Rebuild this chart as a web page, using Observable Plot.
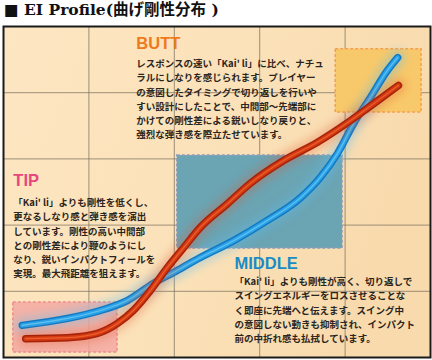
<!DOCTYPE html>
<html><head><meta charset="utf-8">
<script src="https://cdn.jsdelivr.net/npm/d3@7"></script>
<script src="https://cdn.jsdelivr.net/npm/@observablehq/plot@0.6"></script>
<style>
body{margin:0;background:#fff;}
#title{height:24px;font:bold 15.5px "DejaVu Serif","Noto Sans CJK JP",serif;line-height:19px;padding-left:4px;color:#111;white-space:nowrap;}
#chart svg{display:block;}
</style></head><body>
<div id="title">■ EI Profile(曲げ剛性分布 )</div>
<div id="chart"></div>
<script>
// Curves (position along shaft 0-100, stiffness 0-100)
const blueX = [4.4, 15.0, 22.7, 29.0, 35.1, 39.8, 46.1, 53.9, 61.8, 69.6, 74.2, 78.2, 82.0, 85.9, 89.9, 92.3];
const blueY = [9.7, 11.8, 14.2, 17.2, 22.4, 25.7, 30.2, 35.3, 41.4, 48.3, 54.4, 61.6, 70.7, 78.5, 86.7, 90.6];
const redX  = [5.2, 15.0, 22.0, 26.7, 30.4, 34.4, 38.4, 42.2, 46.1, 52.5, 57.8, 65.6, 73.5, 81.3, 86.7, 92.5];
const redY  = [5.7, 6.0, 7.3, 10.3, 14.2, 20.2, 27.2, 33.2, 39.3, 46.5, 52.6, 59.5, 65.0, 71.6, 76.7, 82.2];

// Highlighted zones
const zoneNames = ["TIP", "MIDDLE", "BUTT"];
const zoneX1 = [2.3, 40.7, 77.8];
const zoneX2 = [26.7, 79.4, 97.9];
const zoneY1 = [1.5, 32.9, 74.0];
const zoneY2 = [16.6, 61.0, 93.1];

const gridTicks = [20, 40, 60, 80];

// Annotation texts
const labels = ["BUTT", "TIP", "MIDDLE"];
const bodies = [
  "レスポンスの速い「Kai' li」に比べ、ナチュ\nラルにしなりを感じられます。プレイヤー\nの意図したタイミングで切り返しを行いや\nすい設計にしたことで、中間部〜先端部に\nかけての剛性差による鋭いしなり戻りと、\n強烈な弾き感を際立たせています。",
  "「Kai' li」よりも剛性を低くし、\n更なるしなり感と弾き感を演出\nしています。剛性の高い中間部\nとの剛性差により鞭のようにし\nなり、鋭いインパクトフィールを\n実現。最大飛距離を狙えます。",
  "「Kai' li」よりも剛性が高く、切り返しで\nスイングエネルギーをロスさせることな\nく即座に先端へと伝えます。スイング中\nの意図しない動きも抑制され、インパクト\n前の中折れ感も払拭しています。"
];

const blue = blueX.map((x, i) => ({x, y: blueY[i]}));
const red = redX.map((x, i) => ({x, y: redY[i]}));
const zones = zoneNames.map((name, i) => ({name, x1: zoneX1[i], x2: zoneX2[i], y1: zoneY1[i], y2: zoneY2[i]}));

const zoneStyle = {
  TIP: {fill: "#F3A9A2", stroke: "#EE8C90", op: 0.85},
  MIDDLE: {fill: "#6BA4B3", stroke: "#8E9CBC", op: 1},
  BUTT: {fill: "#F8C96A", stroke: "#F4A04E", op: 1}
};
const labelStyle = {
  BUTT: {x: 31.1, y: 94.9, color: "#EE7A1C", bx: 31.1, by: 90.8},
  TIP: {x: 2.3, y: 53.4, color: "#E8467E", bx: 2.3, by: 48.8},
  MIDDLE: {x: 54.1, y: 28.4, color: "#1A8CC6", bx: 54.1, by: 24.9}
};

// background with a soft warm gradient
function background(index, scales, values, dims) {
  const ns = "http://www.w3.org/2000/svg";
  const g = document.createElementNS(ns, "g");
  const defs = document.createElementNS(ns, "defs");
  defs.innerHTML = `<linearGradient id="bgGrad" x1="0" y1="0" x2="1" y2="0.3">
    <stop offset="0" stop-color="#FDE6C2"/><stop offset="0.6" stop-color="#FBE1B8"/><stop offset="1" stop-color="#F8DAAD"/></linearGradient>`;
  g.appendChild(defs);
  const r = document.createElementNS(ns, "rect");
  r.setAttribute("x", dims.marginLeft); r.setAttribute("y", dims.marginTop);
  r.setAttribute("width", dims.width - dims.marginLeft - dims.marginRight);
  r.setAttribute("height", dims.height - dims.marginTop - dims.marginBottom);
  r.setAttribute("fill", "url(#bgGrad)");
  g.appendChild(r);
  return g;
}

const fam = "'Noto Sans CJK JP', sans-serif";
const marks = [
  background,
  Plot.gridX(gridTicks, {stroke: "#857967", strokeOpacity: 0.8, strokeWidth: 1}),
  Plot.gridY(gridTicks, {stroke: "#857967", strokeOpacity: 0.8, strokeWidth: 1}),
];
zones.forEach(z => {
  const s = zoneStyle[z.name];
  marks.push(Plot.rect([z], {x1: "x1", x2: "x2", y1: "y1", y2: "y2", fill: s.fill, fillOpacity: s.op,
    stroke: s.stroke, strokeWidth: 1.5, strokeDasharray: "3,2"}));
});
labels.forEach((lab, i) => {
  const s = labelStyle[lab];
  marks.push(Plot.text([lab], {x: () => s.x, y: () => s.y, text: d => d, fill: s.color, fontSize: 16.5,
    fontWeight: "bold", fontFamily: "'Liberation Sans', Arial, sans-serif", textAnchor: "start", lineAnchor: "middle"}));
  marks.push(Plot.text([bodies[i]], {x: () => s.bx, y: () => s.by, text: d => d, fill: "#2b2520", fontSize: 9.5,
    fontWeight: "bold", fontFamily: fam, textAnchor: "start", lineAnchor: "top", lineHeight: 1.5}));
});
const curve = "monotone-x";
marks.push(
  Plot.line(blue, {x: "x", y: "y", curve, stroke: "#5BBDF0", strokeWidth: 16, strokeOpacity: 0.35, imageFilter: "blur(4px)", strokeLinecap: "round"}),
  Plot.line(blue, {x: "x", y: "y", curve, stroke: "#1479C2", strokeWidth: 7.5, strokeLinecap: "round", imageFilter: "blur(0.6px)"}),
  Plot.line(blue, {x: "x", y: "y", curve, stroke: "#2AA4E8", strokeWidth: 4.5, strokeLinecap: "round", imageFilter: "blur(0.5px)"}),
  Plot.line(blue, {x: "x", y: "y", curve, stroke: "#7ACDF5", strokeWidth: 1.2, strokeOpacity: 0.7, strokeLinecap: "round", imageFilter: "blur(0.4px)"}),
  Plot.line(red, {x: "x", y: "y", curve, stroke: "#E2542A", strokeWidth: 15, strokeOpacity: 0.3, imageFilter: "blur(4px)", strokeLinecap: "round"}),
  Plot.line(red, {x: "x", y: "y", curve, stroke: "#A5230A", strokeWidth: 7.5, strokeLinecap: "round", imageFilter: "blur(0.6px)"}),
  Plot.line(red, {x: "x", y: "y", curve, stroke: "#D63A12", strokeWidth: 4.5, strokeLinecap: "round", imageFilter: "blur(0.5px)"}),
  Plot.line(red, {x: "x", y: "y", curve, stroke: "#F2703A", strokeWidth: 1.2, strokeOpacity: 0.7, strokeLinecap: "round", imageFilter: "blur(0.4px)"}),
  Plot.frame({stroke: "#1b1b1b", strokeWidth: 2})
);

const plot = Plot.plot({
  width: 432, height: 336,
  marginLeft: 3, marginRight: 2, marginTop: 2, marginBottom: 3,
  x: {domain: [0, 100], axis: null},
  y: {domain: [0, 100], axis: null},
  style: {background: "transparent", overflow: "visible"},
  marks
});
document.getElementById("chart").appendChild(plot);
</script>
</body></html>
